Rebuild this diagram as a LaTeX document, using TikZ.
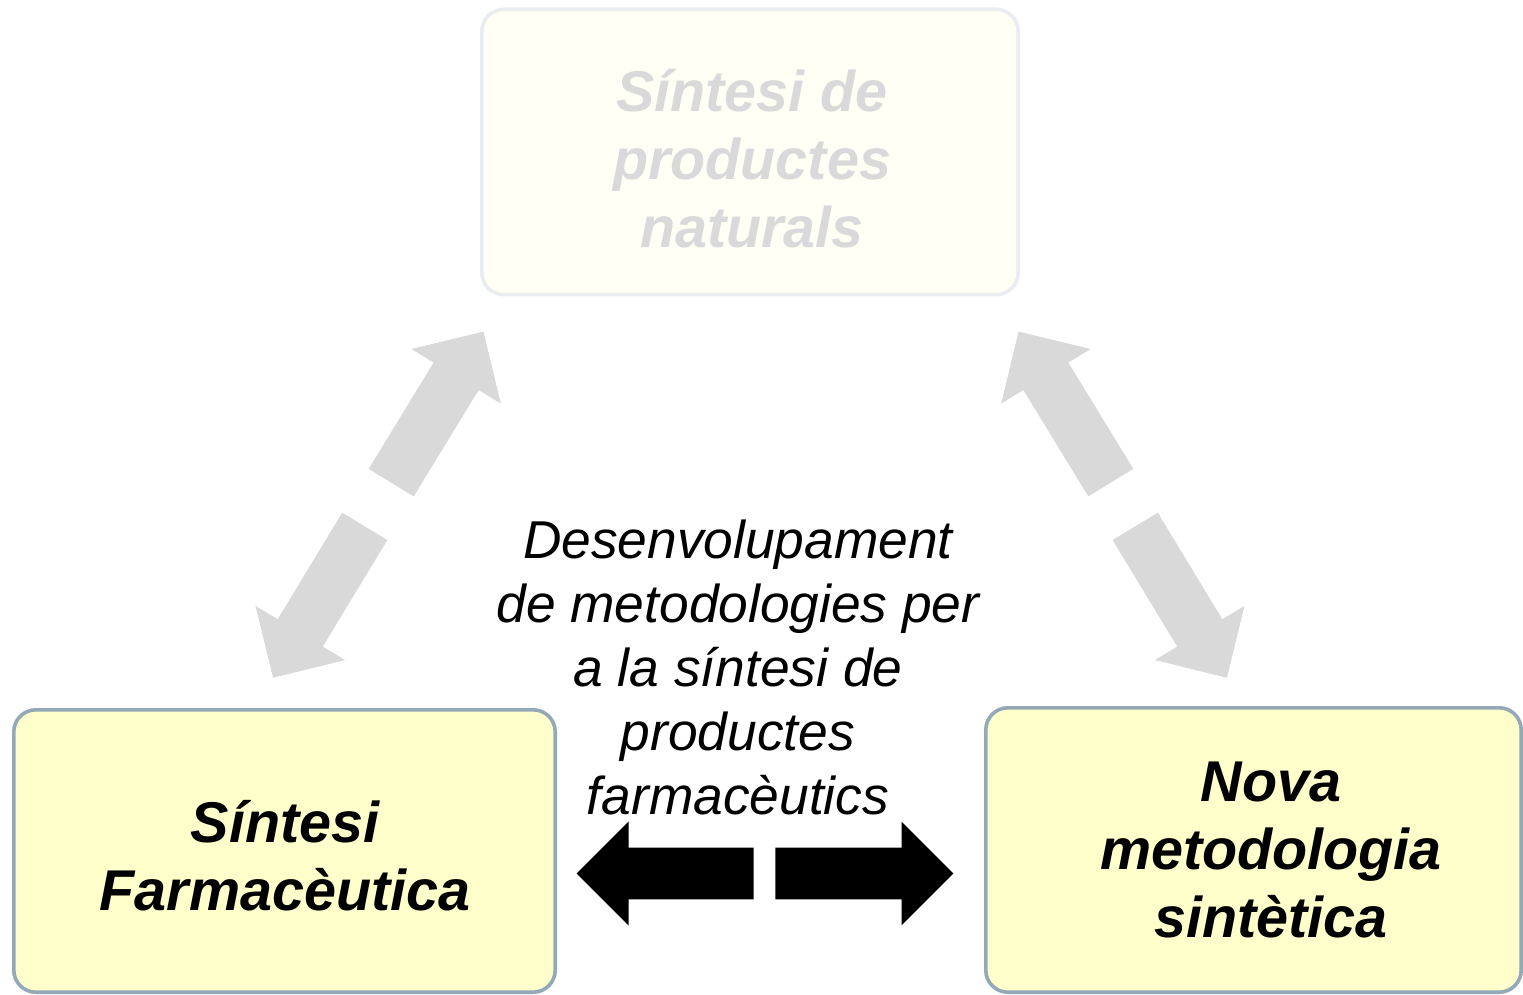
\documentclass[tikz,border=0pt]{standalone}
\usepackage{fontspec}
\setmainfont{Liberation Sans}
\usetikzlibrary{shapes.arrows}

\definecolor{boxfill}{HTML}{FFFFCC}
\definecolor{boxline}{HTML}{93A9B8}
\definecolor{fadefill}{HTML}{FFFFF5}
\definecolor{fadeline}{HTML}{E9EDF2}
\definecolor{fadetext}{HTML}{D9D9D9}
\definecolor{linkgrey}{HTML}{D9D9D9}

\begin{document}
\begin{tikzpicture}[x=0.5pt, y=-0.5pt,
        box/.style={draw=boxline, line width=1.8pt, fill=boxfill, rounded corners=11pt, inner sep=0pt},
        boxtext/.style={font=\fontsize{28.75}{34}\selectfont\bfseries\itshape, align=center},
        link/.style={single arrow, fill=linkgrey, inner xsep=0pt, inner ysep=13pt,
            single arrow head extend=13pt, minimum height=88.5pt, anchor=tail},
        swap/.style={link, fill=black, inner ysep=12.75pt}]
        \useasboundingbox (0,0) rectangle (1523,995);

        % Boxes
        \node[box, fill=fadefill, draw=fadeline, minimum width=268.2pt, minimum height=142.7pt] (natural) at (750,152) {};
        \node[box, minimum width=270.7pt, minimum height=141.2pt] (farma) at (284.5,851) {};
        \node[box, minimum width=267.7pt, minimum height=142.2pt] (nova) at (1253.5,850) {};

        % Box texts
        \node[boxtext, text=fadetext] (naturaltext) at (752,159) {Síntesi de\\productes\\naturals};
        \node[boxtext] (farmatext) at (285,856) {Síntesi\\Farmacèutica};
        \node[boxtext] (novatext) at (1271,850) {Nova\\metodologia\\sintètica};

        % Grey links to the top box
        \node[link, rotate=58.6] (upleft) at (391,483) {};
        \node[link, rotate=238.8] (downleft) at (365,526) {};
        \node[link, rotate=121.4] (upright) at (1111,483) {};
        \node[link, rotate=-58.8] (downright) at (1135,526) {};

        % Black exchange arrows
        \node[swap, rotate=180] (toleft) at (754,873.5) {};
        \node[swap, minimum height=89pt] (toright) at (775,873.5) {};

        % Middle text
        \node[font=\fontsize{26.65}{32}\selectfont\itshape, align=center] (develop) at (738,667)
            {Desenvolupament\\de metodologies per\\a la síntesi de\\productes\\farmacèutics};
\end{tikzpicture}
\end{document}
